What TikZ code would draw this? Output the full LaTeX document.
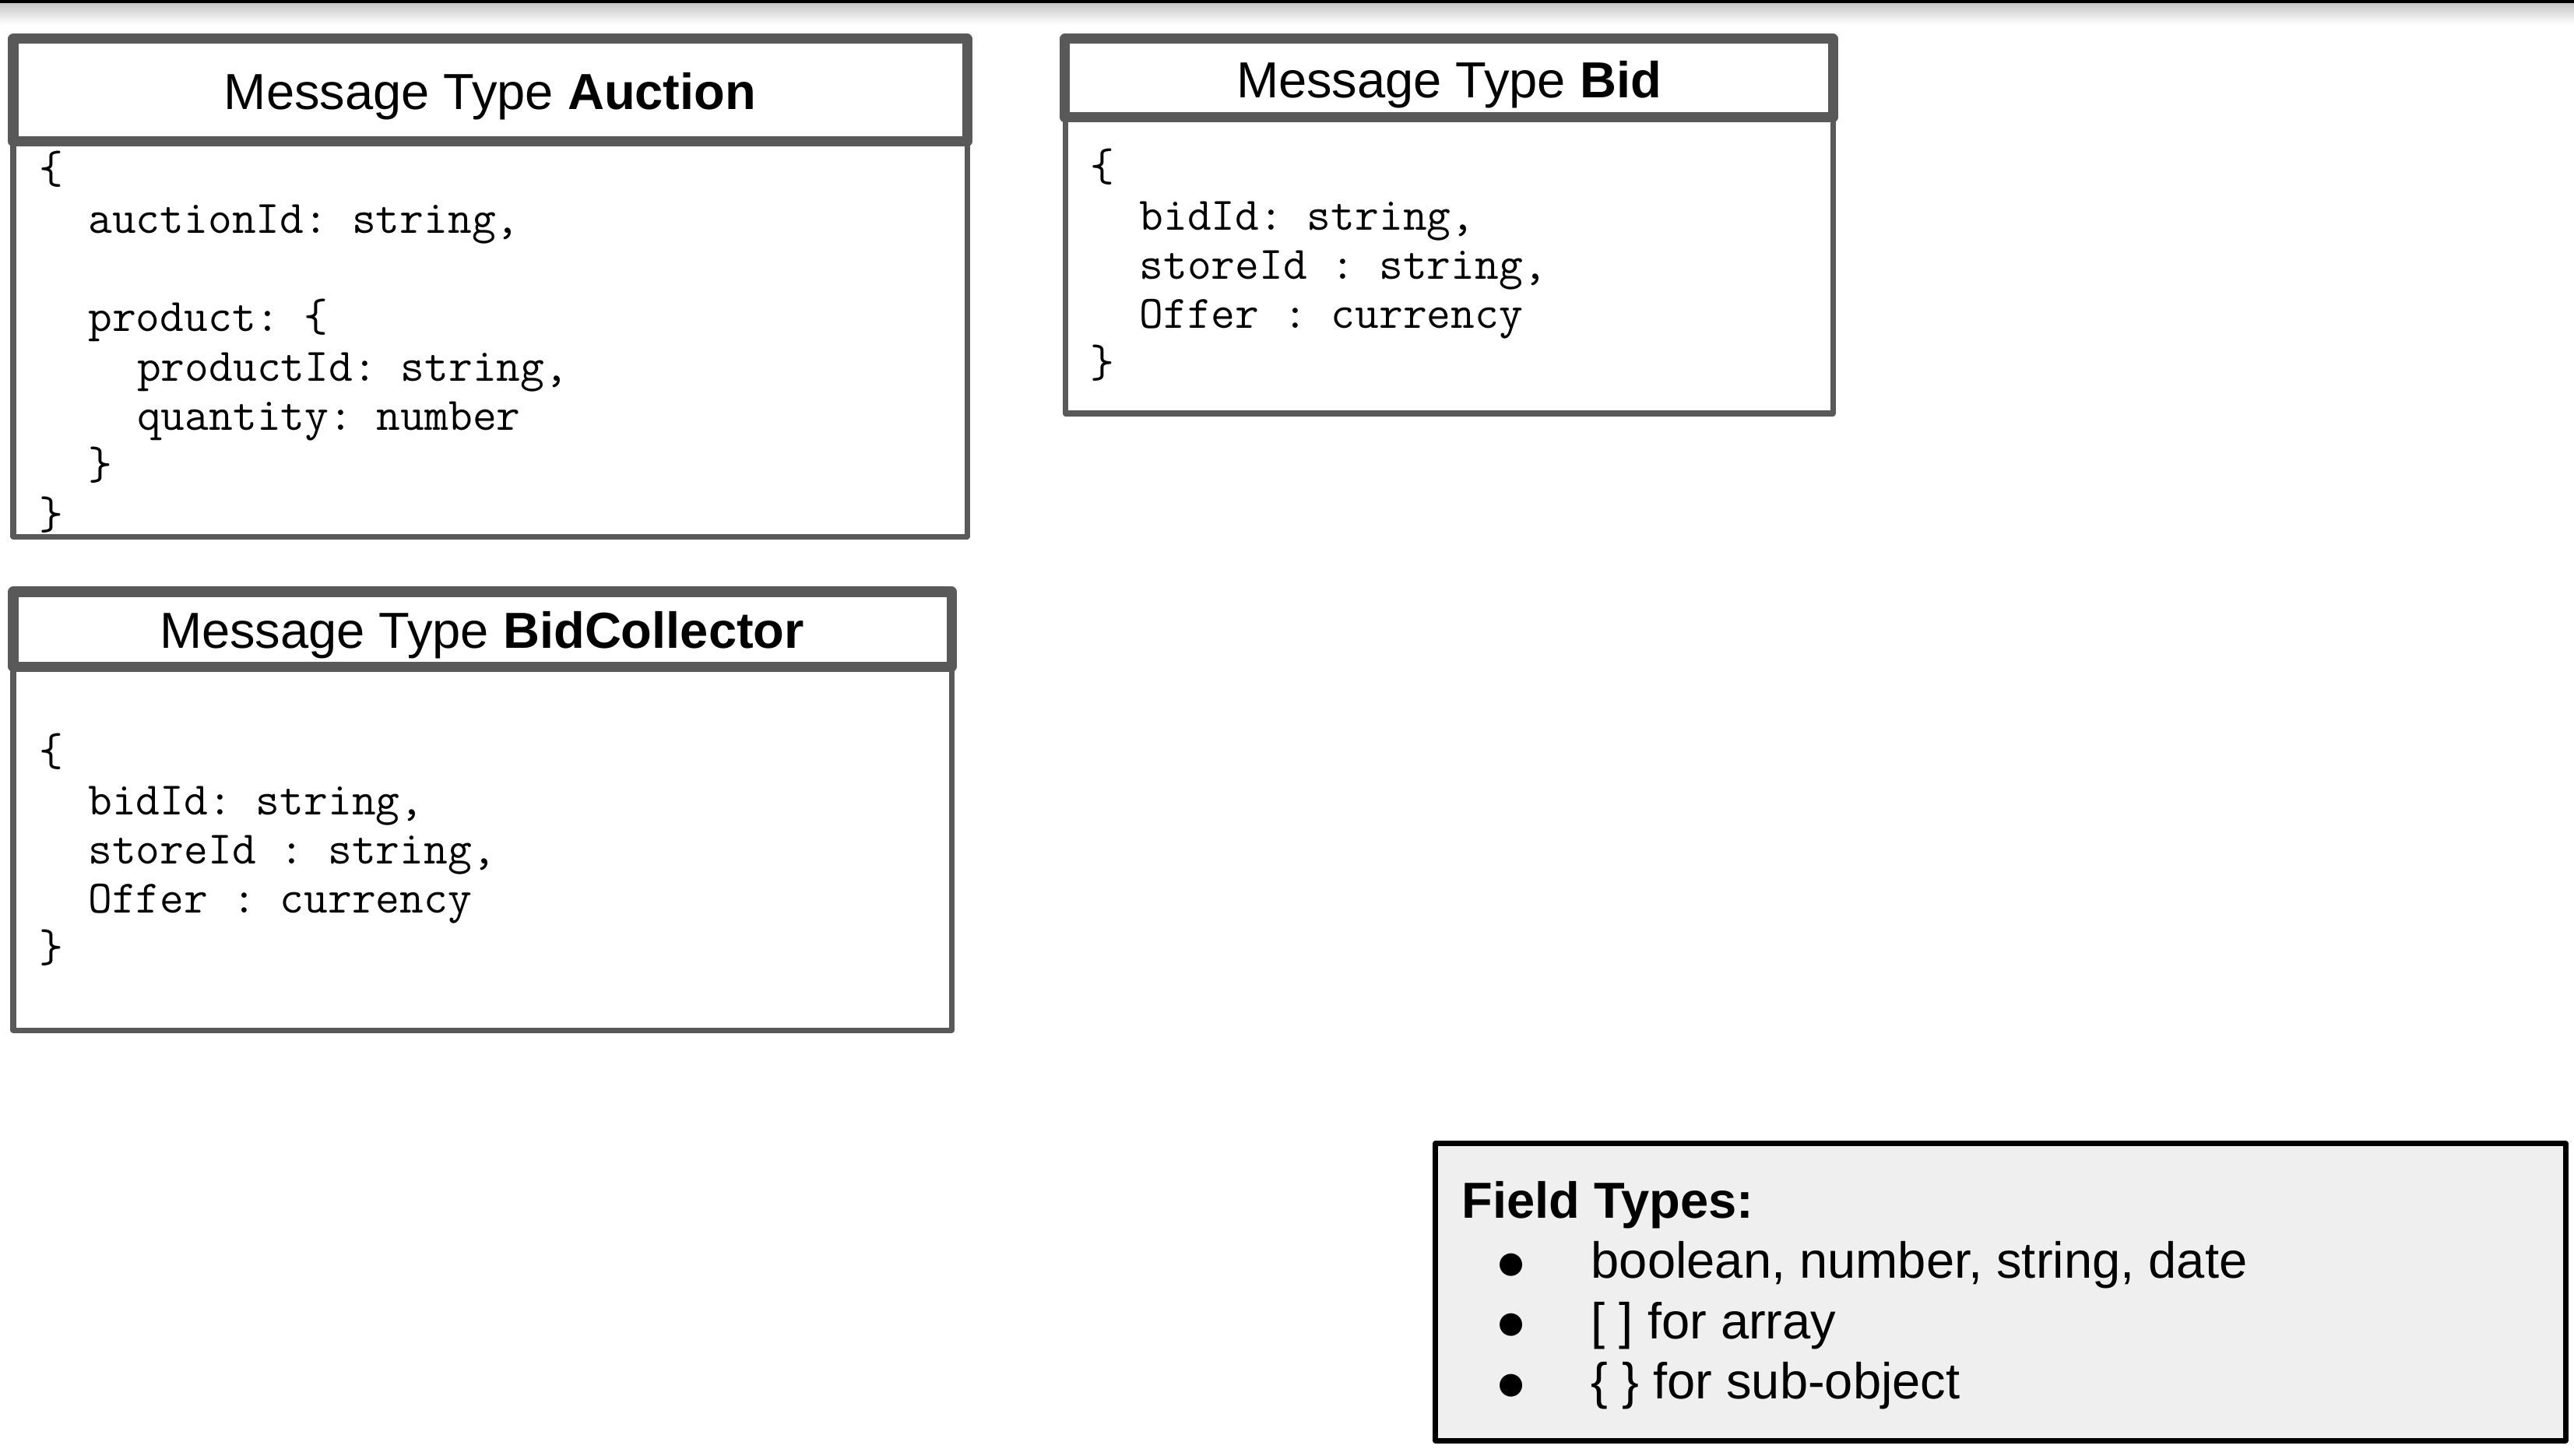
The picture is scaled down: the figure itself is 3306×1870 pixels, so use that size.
\documentclass[tikz,border=0pt]{standalone}
\usepackage{fontspec}
\setmainfont{Liberation Sans}
\setmonofont{Latin Modern Mono}
\newfontfamily\bulletfont{DejaVu Sans}
\definecolor{boxgray}{HTML}{595959}
\definecolor{legendfill}{HTML}{EFEFEF}
\tikzset{
  hdr/.style={draw=boxgray, line width=0.13cm, fill=white, line join=round},
  bodybox/.style={draw=boxgray, line width=0.07cm, fill=white, line join=round},
  legendbox/.style={draw=black, line width=0.07cm, fill=legendfill, line join=round},
  titletext/.style={font=\fontsize{18.5pt}{22pt}\selectfont, inner sep=0pt, anchor=base},
  codetext/.style={font=\ttfamily\fontsize{17pt}{20pt}\selectfont, inner sep=0pt, anchor=base west},
  ltext/.style={font=\fontsize{18.5pt}{22pt}\selectfont, inner sep=0pt, anchor=base west},
  bul/.style={font=\bulletfont\fontsize{10.8pt}{13pt}\selectfont, inner sep=0pt, anchor=center},
}
\begin{document}
\begin{tikzpicture}[x=0.01cm, y=-0.01cm]
\useasboundingbox (0,0) rectangle (3306,1870);
\fill[white] (0,0) rectangle (3306,1870);
% top bar
\shade[top color=black!22, bottom color=white] (0,4) rectangle (3306,32);
\fill[black] (0,0) rectangle (3306,4);

% Auction
\draw[bodybox] (17,182) rectangle (1242,689);
\draw[hdr] (17,50) rectangle (1242,182);
\node[titletext] (t1) at (629.5,140.5) {Message Type \textbf{Auction}};
\node[codetext] (a1) at (50,236) {\{};
\node[codetext] (a2) at (112.7,299.3) {auctionId: string,};
\node[codetext] (a3) at (112.7,425.9) {product: \{};
\node[codetext] (a4) at (175.4,489.2) {productId: string,};
\node[codetext] (a5) at (175.4,552.5) {quantity: number};
\node[codetext] (a6) at (112.7,615.8) {\}};
\node[codetext] (a7) at (50,679.1) {\}};

% Bid
\draw[bodybox] (1368,151) rectangle (2354,531);
\draw[hdr] (1367.5,50) rectangle (2354,151);
\node[titletext] (t2) at (1861,125.6) {Message Type \textbf{Bid}};
\node[codetext] (b1) at (1400,233) {\{};
\node[codetext] (b2) at (1462.7,296) {bidId: string,};
\node[codetext] (b3) at (1462.7,359) {storeId : string,};
\node[codetext] (b4) at (1462.7,422) {Offer : currency};
\node[codetext] (b5) at (1400,485) {\}};

% BidCollector
\draw[bodybox] (17,856) rectangle (1222,1323);
\draw[hdr] (17,760) rectangle (1222,856);
\node[titletext] (t3) at (619,832) {Message Type \textbf{BidCollector}};
\node[codetext] (c1) at (50,983) {\{};
\node[codetext] (c2) at (112.7,1046.2) {bidId: string,};
\node[codetext] (c3) at (112.7,1109.4) {storeId : string,};
\node[codetext] (c4) at (112.7,1172.6) {Offer : currency};
\node[codetext] (c5) at (50,1235.8) {\}};

% Legend
\draw[legendbox] (1843.5,1468.5) rectangle (3295,1850);
\node[ltext] (lt) at (1877,1564) {\textbf{Field Types:}};
\node[bul] (d1) at (1941.5,1624.5) {●};
\node[bul] (d2) at (1941.5,1702) {●};
\node[bul] (d3) at (1941.5,1779.5) {●};
\node[ltext] (l1) at (2043,1641.5) {boolean, number, string, date};
\node[ltext] (l2) at (2043,1719) {[ ] for array};
\node[ltext] (l3) at (2043,1796.5) {\{ \} for sub-object};
\end{tikzpicture}
\end{document}
